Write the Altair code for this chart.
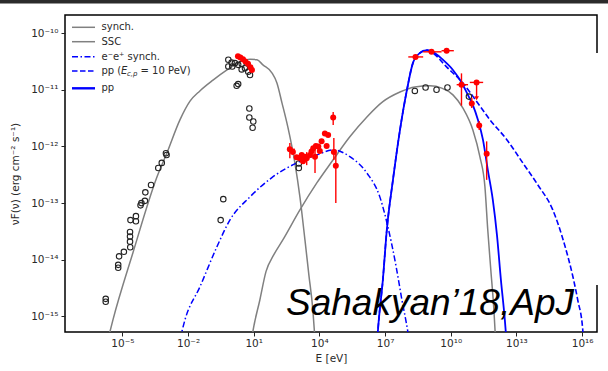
import altair as alt
import numpy as np
import pandas as pd

# Plot area size (pixels) and axis ranges (log10 units)
W, H = 532, 317
X_DOMAIN = [10 ** -7.62, 10 ** 16.68]
Y_DOMAIN = [10 ** -15.275, 10 ** -9.68]

# ---- model curves: log10(E / eV) and log10(nuF_nu / erg cm^-2 s^-1) ----
synch_logE = [-5.66, -5.43, -4.52, -3.42, -2.96, -2.37, -1.91, -1.46, -0.86, -0.22, 0.37, 0.83,
              1.15, 1.42, 1.83, 2.06, 2.29, 2.56, 2.88, 3.11, 3.34, 3.52, 3.70, 3.80]
synch_logF = [-15.41, -15.06, -13.88, -12.54, -12.11, -11.53, -11.20, -11.02, -10.83, -10.65, -10.51, -10.46,
              -10.47, -10.56, -10.70, -10.88, -11.23, -11.66, -12.29, -12.89, -13.65, -14.27, -14.88, -15.41]

ssc_logE = [0.87, 0.96, 1.28, 1.56, 1.92, 2.33, 3.11, 3.89, 4.62, 5.39, 6.17, 6.90, 7.68,
            8.36, 9.05, 9.59, 10.10, 10.55, 11.01, 11.33, 11.56, 11.69, 11.83, 11.97, 12.06]
ssc_logF = [-15.50, -15.27, -14.71, -14.21, -13.91, -13.65, -13.12, -12.64, -12.24, -11.83, -11.48, -11.21, -11.04,
            -10.95, -10.93, -10.97, -11.09, -11.32, -11.71, -12.18, -12.71, -13.47, -14.18, -14.88, -15.50]

pair_logE = [-2.37, -2.14, -1.46, -0.68, -0.09, 0.83, 1.83, 2.97, 3.89, 4.62, 5.39, 6.17,
             6.76, 7.13, 7.49, 7.77, 8.04, 8.13]
pair_logF = [-15.41, -15.06, -14.48, -13.77, -13.30, -12.89, -12.55, -12.29, -12.15, -12.06, -12.18, -12.47,
             -12.89, -13.42, -14.09, -14.71, -15.27, -15.50]

pp_logE = [6.63, 6.67, 6.90, 7.08, 7.36, 7.68, 8.00, 8.27, 8.59, 8.91, 9.18, 9.64, 10.10, 10.51,
           10.78, 11.01, 11.24, 11.47, 11.69, 11.92, 12.11, 12.29, 12.47, 12.56]
pp_logF = [-15.50, -15.27, -14.35, -13.47, -12.59, -11.71, -11.00, -10.53, -10.35, -10.30, -10.33, -10.47, -10.65, -10.88,
           -11.09, -11.27, -11.53, -11.88, -12.41, -12.94, -13.56, -14.35, -15.06, -15.50]

ppcut_logE = [6.63, 6.67, 6.90, 7.08, 7.36, 7.68, 8.00, 8.27, 8.59, 8.91, 9.18, 9.82, 10.55, 11.19,
              11.79, 12.56, 13.29, 13.98, 14.66, 15.21, 15.58, 15.80, 16.03, 16.08]
ppcut_logF = [-15.50, -15.27, -14.35, -13.47, -12.59, -11.71, -11.00, -10.53, -10.35, -10.30, -10.35, -10.60, -10.88, -11.21,
              -11.53, -11.88, -12.29, -12.68, -13.12, -13.75, -14.30, -14.71, -15.24, -15.50]

# ---- archival data (open circles) ----
arch_logE = [-5.76, -5.76, -5.19, -5.19, -5.15, -4.93, -4.64, -4.65, -4.65, -4.65, -4.63, -4.38, -4.38, -4.17,
             -4.13, -3.97, -3.95, -3.69, -3.36, -3.20, -2.98, -3.01, -0.51, -0.39, 0.95, 0.98, 0.80, 0.80,
             0.29, 0.22, -0.16, -0.01, -0.16, 0.02, 0.14, 0.29, 0.45, 0.60, 0.45, 0.75, 0.83, 3.06, 3.06,
             8.36, 8.85, 9.35, 9.85, 10.83]
arch_logF = [-14.74, -14.69, -14.14, -14.09, -13.94, -13.86, -13.78, -13.68, -13.59, -13.51, -13.30, -13.32, -13.23, -13.04,
             -13.00, -12.96, -12.81, -12.68, -12.38, -12.29, -12.15, -12.12, -13.30, -12.93, -11.67, -11.56, -11.49, -11.33,
             -10.90, -10.93, -10.47, -10.52, -10.59, -10.59, -10.53, -10.56, -10.54, -10.62, -10.64, -10.68, -10.74, -12.30, -12.38,
             -11.02, -10.96, -11.00, -10.96, -11.12]

# ---- contemporaneous data (red points) ----
obs_logE = [0.28, 0.39, 0.51, 0.62, 0.74, 0.85, 0.92,
            2.65, 2.79, 2.96, 3.11, 3.19, 3.25, 3.34, 3.42, 3.57, 3.64, 3.72, 3.84, 3.80, 3.95, 4.02,
            4.10, 4.25, 4.40, 4.33, 4.63, 4.66, 4.75,
            8.39, 9.12, 9.81, 10.49, 11.18, 10.96, 11.30, 11.64]
obs_logF = [-10.41, -10.43, -10.46, -10.50, -10.54, -10.60, -10.65,
            -12.05, -12.10, -12.19, -12.21, -12.15, -12.26, -12.18, -12.21, -12.15, -12.09, -12.03, -11.99, -12.18, -12.00, -12.08,
            -11.91, -11.77, -11.80, -11.99, -11.49, -12.10, -12.34,
            -10.42, -10.33, -10.31, -10.91, -10.87, -11.24, -11.63, -12.13]

# vertical error bars: energy, lower, upper
yerr_logE = [2.65, 3.42, 3.80, 4.63, 4.66, 4.75, 10.49, 10.96, 11.30, 11.64]
yerr_lo = [-12.21, -12.33, -12.47, -11.62, -12.24, -13.00, -11.28, -11.32, -11.71, -12.59]
yerr_hi = [-11.94, -12.10, -12.06, -11.39, -11.85, -12.06, -10.71, -11.14, -11.55, -11.91]

# horizontal error bars: flux, lower energy, upper energy
xerr_logF = [-12.05, -10.42, -10.33, -10.31, -10.91, -10.87]
xerr_lo = [2.53, 8.06, 8.74, 9.58, 10.27, 10.87]
xerr_hi = [2.88, 8.74, 9.58, 10.14, 10.79, 11.48]

# upper limit: energy, flux, arrow tip
ul_logE = [11.18]
ul_logF = [-10.87]
ul_tip = [-11.15]

X_TICK_EXP = [-5, -2, 1, 4, 7, 10, 13, 16]
Y_TICK_EXP = [-15, -14, -13, -12, -11, -10]

SUP = str.maketrans("-0123456789", "⁻⁰¹²³⁴⁵⁶⁷⁸⁹")


def pow_label_expr(exps):
    expr = ""
    for e in exps:
        expr += f"datum.value < {10 ** (e + 0.5)!r} ? '10{str(e).translate(SUP)}' : "
    return expr + "''"


def pw(v):
    return np.power(10.0, np.asarray(v, dtype=float))


AX_FONT = "DejaVu Sans"
AX_COLOR = "#2a2a2a"
TICK_FONT = 10.5

x_axis = alt.Axis(values=[10.0 ** e for e in X_TICK_EXP], labelExpr=pow_label_expr(X_TICK_EXP),
                  title="E [eV]", titleFont=AX_FONT, titleFontSize=10.5, titleFontWeight="normal",
                  titleColor=AX_COLOR, titlePadding=5, labelFont=AX_FONT, labelFontSize=TICK_FONT,
                  labelColor=AX_COLOR, labelPadding=2, tickColor="#222222", tickSize=4, tickWidth=1,
                  domain=False, grid=False, labelFlush=False, labelOverlap=False)
y_axis = alt.Axis(values=[10.0 ** e for e in Y_TICK_EXP], labelExpr=pow_label_expr(Y_TICK_EXP),
                  title="νF(ν) (erg cm⁻² s⁻¹)", titleFont=AX_FONT, titleFontSize=10.5,
                  titleFontWeight="normal", titleColor=AX_COLOR, titlePadding=10, labelFont=AX_FONT,
                  labelFontSize=TICK_FONT, labelColor=AX_COLOR, labelPadding=3, tickColor="#222222",
                  tickSize=4, tickWidth=1, domain=False, grid=False, labelFlush=False, labelOverlap=False)

xs = alt.Scale(type="log", domain=X_DOMAIN, nice=False)
ys = alt.Scale(type="log", domain=Y_DOMAIN, nice=False)
X = alt.X("E:Q", scale=xs, axis=x_axis)
Y = alt.Y("F:Q", scale=ys, axis=y_axis)

GRAY = "#808080"
BLUE = "#0000ff"
RED = "#ff0000"
DASHDOT = [6, 2.5, 1.5, 2.5]
DASHED = [5.5, 2.5]


def curve(logE, logF, color, width, dash=None):
    df = pd.DataFrame({"E": pw(logE), "F": pw(logF), "i": np.arange(len(logE))})
    kw = dict(color=color, strokeWidth=width, clip=True, interpolate="monotone")
    if dash:
        kw["strokeDash"] = dash
    return alt.Chart(df).mark_line(**kw).encode(x=X, y=Y, order="i:Q")


layers = [
    curve(synch_logE, synch_logF, GRAY, 1.5),
    curve(ssc_logE, ssc_logF, GRAY, 1.5),
    curve(pair_logE, pair_logF, BLUE, 1.5, DASHDOT),
    curve(ppcut_logE, ppcut_logF, BLUE, 1.6, DASHED),
    curve(pp_logE, pp_logF, BLUE, 1.8),
]

arch = pd.DataFrame({"E": pw(arch_logE), "F": pw(arch_logF)})
layers.append(alt.Chart(arch).mark_point(shape="circle", filled=False, size=30, color="#222222",
                                         strokeWidth=1.1, opacity=1, clip=True).encode(x=X, y=Y))

yerr = pd.DataFrame({"E": pw(yerr_logE), "F": pw(yerr_lo), "F2": pw(yerr_hi)})
layers.append(alt.Chart(yerr).mark_rule(color=RED, strokeWidth=1.4).encode(x=X, y=Y, y2="F2:Q"))

xerr = pd.DataFrame({"F": pw(xerr_logF), "E": pw(xerr_lo), "E2": pw(xerr_hi)})
layers.append(alt.Chart(xerr).mark_rule(color=RED, strokeWidth=1.4).encode(x=X, x2="E2:Q", y=Y))

ul = pd.DataFrame({"E": pw(ul_logE), "F": pw(ul_logF), "F2": pw(ul_tip)})
layers.append(alt.Chart(ul).mark_rule(color=RED, strokeWidth=1.4).encode(x=X, y=Y, y2="F2:Q"))
ul_tip_df = pd.DataFrame({"E": pw(ul_logE), "F": pw(ul_tip)})
layers.append(alt.Chart(ul_tip_df).mark_point(shape="triangle-down", filled=True, size=22, color=RED,
                                              opacity=1).encode(x=X, y=Y))

obs = pd.DataFrame({"E": pw(obs_logE), "F": pw(obs_logF)})
layers.append(alt.Chart(obs).mark_point(shape="circle", filled=True, size=36, color=RED,
                                        opacity=1).encode(x=X, y=Y))

# ---- decorations drawn in pixel space ----
one = pd.DataFrame({"a": [0]})

# legend (upper left, inside the axes)
legend_rows = [
    ("synch.", GRAY, None, 1.5, 12.3),
    ("SSC", GRAY, None, 1.5, 26.7),
    ("e⁻e⁺ synch.", BLUE, DASHDOT, 1.5, 41.7),
    (None, BLUE, DASHED, 1.5, 56.0),
    ("pp", BLUE, None, 2.4, 73.3),
]
LEG_FONT = 10
for label, color, dash, width, yy in legend_rows:
    kw = dict(color=color, strokeWidth=width)
    if dash:
        kw["strokeDash"] = dash
    layers.append(alt.Chart(one).mark_rule(**kw).encode(
        x=alt.value(7), x2=alt.value(30), y=alt.value(yy)))
    if label is not None:
        layers.append(alt.Chart(one).mark_text(text=label, font=AX_FONT, fontSize=LEG_FONT, color=AX_COLOR,
                                               align="left", baseline="middle").encode(
            x=alt.value(36.5), y=alt.value(yy)))

# legend entry with an italic E and a "c,p" subscript
yy = 56.0
for txt, xx, style, size, dy in [("pp (", 36.5, "normal", LEG_FONT, 0),
                                 ("E", 56.0, "italic", LEG_FONT, 0),
                                 ("c,p", 62.0, "italic", 7, 2.5),
                                 ("= 10 PeV)", 75.5, "normal", LEG_FONT, 0)]:
    layers.append(alt.Chart(one).mark_text(text=txt, font=AX_FONT, fontSize=size, fontStyle=style,
                                           color=AX_COLOR, align="left", baseline="middle").encode(
        x=alt.value(xx), y=alt.value(yy + dy)))

# reference tag
layers.append(alt.Chart(one).mark_text(text="Sahakyan’18,ApJ", font="Liberation Sans", fontStyle="italic",
                                       fontSize=37, color="black", align="left",
                                       baseline="alphabetic").encode(x=alt.value(221), y=alt.value(300)))

# gap in the right spine
layers.append(alt.Chart(one).mark_rule(color="white", strokeWidth=3).encode(
    x=alt.value(W), y=alt.value(38), y2=alt.value(270)))

# dark strip along the top edge
layers.append(alt.Chart(one).mark_rect(color="#2b2b2b").encode(
    x=alt.value(-65), x2=alt.value(W + 11), y=alt.value(-15), y2=alt.value(-11.6)))

chart = alt.layer(*layers).properties(
    width=W, height=H,
    padding={"left": 65, "top": 15, "right": 11, "bottom": 39},
    autosize=alt.AutoSizeParams(type="none"),
    background="white",
).configure_view(stroke="black", strokeWidth=1.5)

chart.save("out.html", embed_options={"renderer": "svg", "actions": False})
